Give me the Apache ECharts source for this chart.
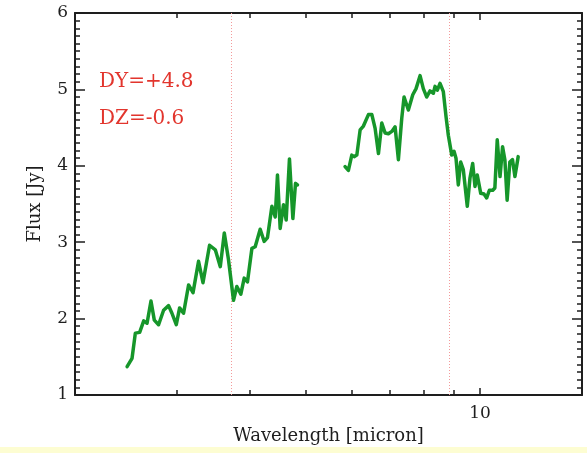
<!DOCTYPE html>
<html>
<head>
<meta charset="utf-8">
<style>
  html, body { margin: 0; padding: 0; background: #ffffff; }
  #chart { width: 587px; height: 453px; }
</style>
<script src="https://cdn.jsdelivr.net/npm/echarts@6/dist/echarts.min.js"></script>
</head>
<body>
<div id="chart"></div>
<script>
// Short-wavelength segment: wavelength (micron) and flux (Jy)
const wave1 = [2.460, 2.509, 2.542, 2.586, 2.628, 2.663, 2.705, 2.741, 2.788, 2.844,
  2.901, 2.940, 2.991, 3.031, 3.079, 3.141, 3.197, 3.268, 3.326, 3.414,
  3.493, 3.563, 3.620, 3.681, 3.755, 3.805, 3.866, 3.918, 3.969, 4.040,
  4.093, 4.175, 4.242, 4.298, 4.374, 4.432, 4.472, 4.520, 4.580, 4.629,
  4.690, 4.754, 4.804, 4.842];
const flux1 = [1.37, 1.48, 1.81, 1.82, 1.97, 1.94, 2.23, 1.98, 1.92, 2.11,
  2.17, 2.07, 1.92, 2.14, 2.07, 2.44, 2.34, 2.75, 2.47, 2.96,
  2.90, 2.68, 3.12, 2.77, 2.24, 2.42, 2.32, 2.53, 2.48, 2.92,
  2.94, 3.17, 3.01, 3.06, 3.47, 3.33, 3.88, 3.18, 3.49, 3.29,
  4.09, 3.31, 3.77, 3.75];

// Long-wavelength segment
const wave2 = [5.850, 5.928, 6.009, 6.065, 6.130, 6.211, 6.293, 6.419, 6.507, 6.592,
  6.680, 6.769, 6.859, 6.950, 7.045, 7.137, 7.231, 7.328, 7.396, 7.523,
  7.656, 7.757, 7.881, 7.984, 8.093, 8.200, 8.309, 8.365, 8.442, 8.532,
  8.645, 8.739, 8.818, 8.939, 9.020, 9.091, 9.175, 9.262, 9.359, 9.508,
  9.611, 9.714, 9.804, 9.893, 10.03, 10.16, 10.27, 10.38, 10.52, 10.61,
  10.71, 10.83, 10.94, 11.04, 11.14, 11.26, 11.38, 11.49, 11.64];
const flux2 = [3.99, 3.94, 4.14, 4.12, 4.14, 4.47, 4.52, 4.67, 4.67, 4.49,
  4.16, 4.56, 4.43, 4.42, 4.45, 4.51, 4.08, 4.62, 4.90, 4.73,
  4.93, 5.01, 5.18, 5.01, 4.90, 4.98, 4.95, 5.04, 4.99, 5.08,
  4.97, 4.64, 4.40, 4.14, 4.19, 4.10, 3.75, 4.05, 3.95, 3.47,
  3.84, 4.03, 3.73, 3.88, 3.64, 3.63, 3.58, 3.68, 3.68, 3.71,
  4.34, 3.86, 4.25, 4.08, 3.55, 4.05, 4.08, 3.86, 4.12];

// Reference wavelengths marked by dotted vertical lines
const markerWaves = [3.72, 8.84];

// Axis ticks
const xMajorTicks = [10];
const xMinorTicks = [3, 4, 5, 6, 7, 8, 9];
const annotations = ['DY=+4.8', 'DZ=-0.6'];

const SERIF = '"DejaVu Serif", "Liberation Serif", serif';
const INK = '#1e1e1e';
const GREEN = '#16962a';

function pairs(xs, ys) { return xs.map((x, i) => [x, ys[i]]); }

function xAxisDef(position, ticks, tickLen, opts) {
  return Object.assign({
    type: 'log', logBase: 10, min: 2, max: 15, position: position,
    axisLine: { show: false },
    axisTick: { show: true, inside: true, length: tickLen, customValues: ticks,
      lineStyle: { color: INK, width: 1.5 } },
    axisLabel: { show: false },
    splitLine: { show: false },
    minorTick: { show: false }
  }, opts || {});
}

const chart = echarts.init(document.getElementById('chart'), null, { renderer: 'canvas' });

chart.setOption({
  animation: false,
  backgroundColor: '#ffffff',
  grid: { left: 75, right: 5, top: 13, bottom: 58, containLabel: false },
  xAxis: [
    xAxisDef('bottom', xMajorTicks, 7, {
      axisLine: { show: true, lineStyle: { color: INK, width: 2 } },
      axisLabel: { show: true, customValues: xMajorTicks, margin: 10,
        color: INK, fontFamily: SERIF, fontSize: 17 },
      name: 'Wavelength [micron]', nameLocation: 'middle', nameGap: 30,
      nameTextStyle: { color: INK, fontFamily: SERIF, fontSize: 18 }
    }),
    xAxisDef('bottom', xMinorTicks, 5),
    xAxisDef('top', xMajorTicks, 7, {
      axisLine: { show: true, lineStyle: { color: INK, width: 2 } }
    }),
    xAxisDef('top', xMinorTicks, 5)
  ],
  yAxis: [
    {
      type: 'value', min: 1, max: 6, interval: 1, position: 'left',
      axisLine: { show: true, lineStyle: { color: INK, width: 2 } },
      axisTick: { show: true, inside: true, length: 10, lineStyle: { color: INK, width: 1.5 } },
      minorTick: { show: true, splitNumber: 10, length: 5, lineStyle: { color: INK, width: 1.5 } },
      axisLabel: { color: INK, fontFamily: SERIF, fontSize: 17, margin: 7 },
      splitLine: { show: false },
      name: 'Flux [Jy]', nameLocation: 'middle', nameGap: 31,
      nameTextStyle: { color: INK, fontFamily: SERIF, fontSize: 18 }
    },
    {
      type: 'value', min: 1, max: 6, interval: 1, position: 'right',
      axisLine: { show: true, lineStyle: { color: INK, width: 2 } },
      axisTick: { show: true, inside: true, length: 10, lineStyle: { color: INK, width: 1.5 } },
      minorTick: { show: true, splitNumber: 10, length: 5, lineStyle: { color: INK, width: 1.5 } },
      axisLabel: { show: false },
      splitLine: { show: false }
    }
  ],
  series: [
    {
      type: 'line', xAxisIndex: 0, yAxisIndex: 0,
      data: pairs(wave1, flux1),
      showSymbol: false, symbol: 'none',
      lineStyle: { color: GREEN, width: 3.5, join: 'round', cap: 'round' },
      z: 5,
      markLine: {
        silent: true, symbol: ['none', 'none'], label: { show: false },
        lineStyle: { color: '#f39a9a', width: 1, type: [1, 2] },
        data: markerWaves.map(w => ({ xAxis: w }))
      }
    },
    {
      type: 'line', xAxisIndex: 0, yAxisIndex: 0,
      data: pairs(wave2, flux2),
      showSymbol: false, symbol: 'none',
      lineStyle: { color: GREEN, width: 3.5, join: 'round', cap: 'round' },
      z: 5
    }
  ],
  graphic: [
    { type: 'text', left: 99, top: 72,
      style: { text: annotations[0], fill: '#e2352d', font: '20px ' + SERIF } },
    { type: 'text', left: 99, top: 109,
      style: { text: annotations[1], fill: '#e2352d', font: '20px ' + SERIF } },
    { type: 'rect', left: 0, top: 447, z: -1,
      shape: { width: 587, height: 6 }, style: { fill: '#fdfdd2' } }
  ]
});
</script>
</body>
</html>
